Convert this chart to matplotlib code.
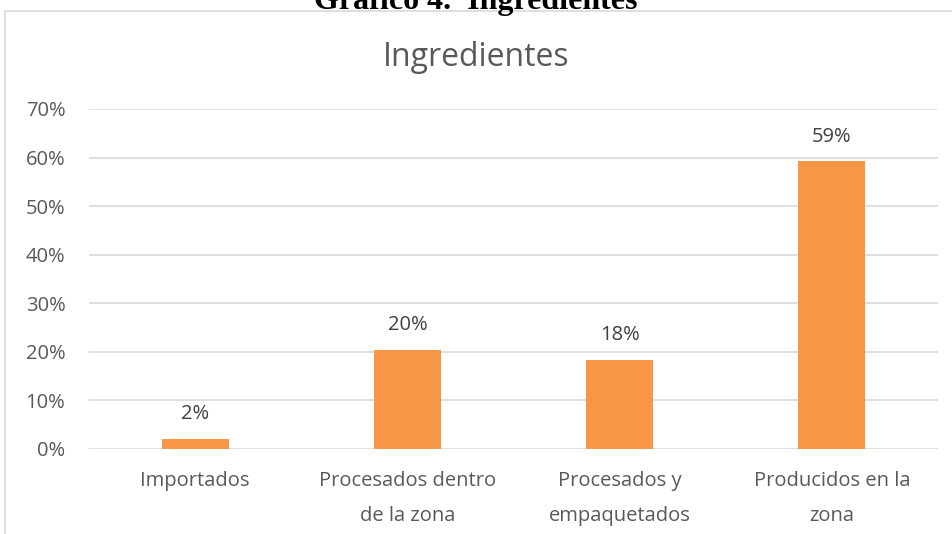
import matplotlib.pyplot as plt
from matplotlib.patches import Rectangle
from matplotlib.ticker import PercentFormatter

categories = ["Importados", "Procesados dentro\nde la zona", "Procesados y\nempaquetados", "Producidos en la\nzona"]
values = [0.021, 0.204, 0.184, 0.592]
yticks = [0, 0.1, 0.2, 0.3, 0.4, 0.5, 0.6, 0.7]

W, H = 952, 534
fig = plt.figure(figsize=(W / 100, H / 100), dpi=100)
plt.rcParams["font.family"] = ["Open Sans", "DejaVu Sans"]

# outer chart frame (right and bottom edges run off the page)
fig.patches.append(Rectangle((5 / W, -0.1), 1.2, 1 - 11 / H + 0.1, transform=fig.transFigure,
                             fill=False, edgecolor="#d9d9d9", linewidth=1.2))

# caption above the frame, clipped at the top
fig.text(0.5, 1 - 9 / H, "Gráfico 4.  Ingredientes", ha="center", va="baseline",
         fontsize=23, fontweight="bold", family="Liberation Serif", color="black")

ax = fig.add_axes([89 / W, 1 - 449 / H, (938 - 89) / W, (449 - 109) / H])
x = range(len(categories))
bars = ax.bar(x, values, width=0.315, color="#f79646", zorder=3)

for b, v in zip(bars, values):
    ax.text(b.get_x() + b.get_width() / 2, v + 0.03, f"{v:.0%}", ha="center", va="bottom",
            fontsize=14.5, color="#404040")

ax.set_xlim(-0.5, len(categories) - 0.5)
ax.set_ylim(0, 0.7)
ax.set_yticks(yticks)
ax.yaxis.set_major_formatter(PercentFormatter(1.0, decimals=0))
ax.set_xticks(list(x))
ax.set_xticklabels(categories, linespacing=2.0)
ax.tick_params(axis="both", length=0, labelsize=14.5, labelcolor="#595959")
ax.tick_params(axis="y", pad=17)
ax.tick_params(axis="x", pad=16)
ax.grid(axis="y", color="#d9d9d9", linewidth=1.2, zorder=0)
for s in ax.spines.values():
    s.set_visible(False)

fig.text(0.5, 1 - 58 / H, "Ingredientes", ha="center", va="center", fontsize=23,
         color="#595959")

fig.savefig("out.png", dpi=100)
